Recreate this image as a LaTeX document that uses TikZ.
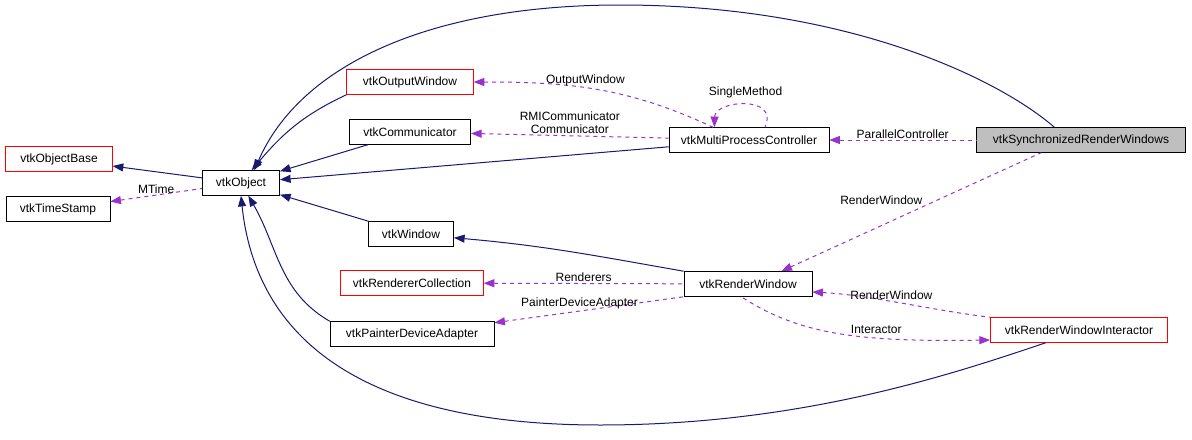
\documentclass[tikz,border=0pt]{standalone}
\usepackage{fontspec}
\setmainfont{Liberation Sans}
\usetikzlibrary{arrows.meta}
\definecolor{navyblue}{RGB}{25,25,112}
\definecolor{orchid}{RGB}{153,50,204}
\definecolor{boxgray}{RGB}{191,191,191}
\tikzset{
>={Stealth[length=8pt,width=6pt,inset=0pt]},
  cls/.style={draw=black, fill=white, minimum height=18.75pt, inner sep=2pt,
    font=\fontsize{9}{10}\selectfont},
  redcls/.style={cls, draw=red},
  inh/.style={draw=navyblue, <-, line width=0.75pt},
  use/.style={draw=orchid, <-, dashed, line width=0.75pt},
  lbl/.style={font=\fontsize{9}{10}\selectfont, align=center, inner sep=1pt},
}
\begin{document}
\begin{tikzpicture}[x=0.75pt, y=-0.75pt]
    \useasboundingbox (0,0) rectangle (1192,439);

    % classes
    \node[cls, fill=boxgray, minimum width=157pt] (srw) at (1081,140) {vtkSynchronizedRenderWindows};
    \node[cls, minimum width=120pt] (mpc) at (749,140) {vtkMultiProcessController};
    \node[redcls, minimum width=95pt] (ow) at (410,82) {vtkOutputWindow};
    \node[cls, minimum width=91pt] (comm) at (410,132) {vtkCommunicator};
    \node[redcls, minimum width=80pt] (ob) at (59,159) {vtkObjectBase};
    \node[cls, minimum width=58pt] (obj) at (241,183) {vtkObject};
    \node[cls, minimum width=78pt] (ts) at (58,209) {vtkTimeStamp};
    \node[cls, minimum width=64pt] (win) at (411,234) {vtkWindow};
    \node[redcls, minimum width=107pt] (rc) at (412,283) {vtkRendererCollection};
    \node[cls, minimum width=96pt] (rw) at (748,284) {vtkRenderWindow};
    \node[cls, minimum width=123pt] (pda) at (412,334) {vtkPainterDeviceAdapter};
    \node[redcls, minimum width=133pt] (rwi) at (1079,330) {vtkRenderWindowInteractor};

    % inheritance
    \draw[inh] (ob) -- (obj);
    \draw[inh] (obj) to[out=50,in=205] (ow.south west);
    \draw[inh] (obj) -- (comm);
    \draw[inh] (obj) -- (mpc);
    \draw[inh] (obj) -- (win);
    \draw[inh] (obj) to[out=-60,in=150] (pda.north west);
    \draw[inh] (obj.north) ++(10pt,0) .. controls (300,65) and (430,5) .. (620,5)
        .. controls (850,5) and (1000,80) .. ([xshift=-20pt]srw.north);
    \draw[inh] (obj.south) .. controls (255,330) and (350,425) .. (600,425)
        .. controls (800,425) and (950,375) .. ([xshift=-25pt]rwi.south);
    \draw[inh] (win) to[out=-5,in=170] (rw.north west);

    % usage
    \draw[use] (ts) -- node[lbl, above] {MTime} (obj);
    \draw[use] (ow.east) to[out=0,in=155] node[lbl, above, pos=0.45] {OutputWindow} ([xshift=-27pt]mpc.north);
    \draw[use] (comm) -- node[lbl, above] {RMICommunicator\\Communicator} (mpc);
    \draw[use] ([xshift=-26pt]mpc.north) .. controls (715,100) and (780,95) .. ([xshift=12pt]mpc.north)
        node[lbl, above, pos=0.5, yshift=4pt] {SingleMethod};
    \draw[use] (mpc) -- node[lbl, above] {ParallelController} (srw);
    \draw[use] ([xshift=25pt]rw.north) -- node[lbl, above left, pos=0.55] {RenderWindow} ([xshift=-30pt]srw.south);
    \draw[use] (rc) -- node[lbl, above] {Renderers} (rw);
    \draw[use] (pda) -- node[lbl, above, pos=0.45] {PainterDeviceAdapter} (rw.south west);
    \draw[use] (rw.east) ++(0,-6pt) .. controls (870,295) and (930,310) .. (rwi.north west)
        node[lbl, above, pos=0.45] {RenderWindow};
    \draw[use] (rwi.west) ++(0,-7.5pt) .. controls (860,342) and (800,335) .. ([xshift=-5pt]rw.south)
        node[lbl, above, pos=0.35, yshift=2pt] {Interactor};
\end{tikzpicture}
\end{document}
